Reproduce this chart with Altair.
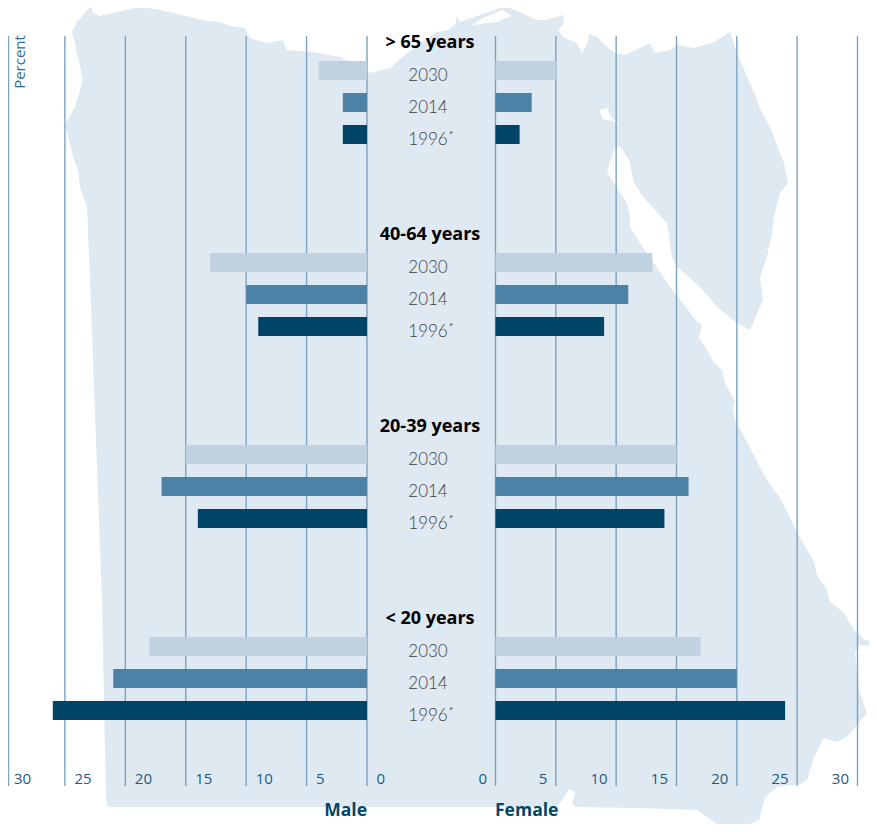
import altair as alt
import pandas as pd

# --- values ---
groups = ["> 65 years", "40-64 years", "20-39 years", "< 20 years"]
years = ["2030", "2014", "1996"]
male = [[4, 2, 2], [13, 10, 9], [15, 17, 14], [18, 21, 26]]
female = [[5, 3, 2], [13, 11, 9], [15, 16, 14], [17, 20, 24]]
ticks = [0, 5, 10, 15, 20, 25, 30]
year_colors = ["#c0d1e1", "#4b82a5", "#004468"]

# Egypt outline, in the map's own units
outline = [
 [91,5],[93,13],[100,16],[117,12],[140,7],[160,10],[207,21],[220,22],[230,26],[245,28],[250,38],[267,43],
 [283,40],[287,50],[313,52],[340,57],[370,73],[390,68],[407,53],[425,40],[437,32],[448,30],[455,25],[457,16],
 [460,22],[463,21],[500,8],[508,7],[520,12],[537,20],[545,20],[563,15],[564,23],[558,30],[563,37],[570,40],
 [577,43],[582,53],[587,45],[589,34],[597,37],[607,47],[615,53],[625,55],[650,43],[655,53],[670,50],[677,45],
 [694,48],[714,42],[730,32],[737,53],[757,100],[759,107],[770,127],[784,163],[788,183],[780,193],[774,217],
 [772,233],[767,257],[760,277],[763,300],[750,330],[737,323],[717,307],[700,287],[677,267],[672,257],[667,223],
 [644,198],[634,183],[629,160],[624,152],[619,145],[614,150],[607,172],[617,188],[627,203],[630,217],[630,227],
 [640,243],[650,257],[670,287],[683,303],[697,322],[702,325],[700,333],[699,338],[709,353],[714,363],[722,370],
 [725,383],[735,402],[733,408],[735,420],[745,438],[765,477],[780,498],[797,532],[814,562],[817,575],[827,590],
 [830,602],[844,613],[854,630],[865,640],[872,640],[877,647],[859,645],[855,653],[859,690],[867,713],[847,737],
 [837,742],[824,738],[814,757],[807,780],[800,784],[777,787],[765,797],[759,820],[737,829],[724,829],[697,810],
 [637,808],[575,807],[572,803],[575,792],[569,789],[562,800],[557,807],[330,807],[108,807],[106,800],[102,600],
 [90,280],[87,207],[80,187],[78,170],[74,160],[65,125],[75,107],[83,80],[78,57],[72,32],[77,22],[85,13],[91,5],
]
lake_north = [[471,26],[480,24],[497,22],[503,19],[512,16],[502,10],[483,18],[471,26]]
lake_bitter = [[599,110],[603,119],[612,121],[620,125],[612,118],[607,108],[599,110]]

# --- tables ---
rows_m, rows_f, rows_y, rows_t = [], [], [], []
for g, name in enumerate(groups):
    base = g * 6
    rows_t.append({"r": base, "label": name})
    for i, y in enumerate(years):
        r = base + 1 + i
        rows_m.append({"r": r, "v": male[g][i], "zero": 0, "year": y})
        rows_f.append({"r": r, "v": female[g][i], "zero": 0, "year": y})
        rows_y.append({"r": r, "label": y})
dm, df = pd.DataFrame(rows_m), pd.DataFrame(rows_f)
dy, dt = pd.DataFrame(rows_y), pd.DataFrame(rows_t)
dticks = pd.DataFrame({"t": ticks, "top": -0.1875, "bottom": 23.25, "lab": 23.03})

W, H = 861, 816
yscale = alt.Scale(domain=[-34 / 32, (H - 34) / 32], range=[0, H], nice=False, zero=False, padding=0)
xm = alt.Scale(domain=[30, 0], range=[-3.5, 359], nice=False, zero=False)
xf = alt.Scale(domain=[0, 30], range=[487.5, 849.5], nice=False, zero=False)
color = alt.Color("year:N", scale=alt.Scale(domain=years, range=year_colors), legend=None)
Y = alt.Y("r:Q", scale=yscale, axis=None)

feature = {"type": "Feature", "properties": {},
           "geometry": {"type": "Polygon", "coordinates": [outline, lake_north, lake_bitter]}}
map_layer = alt.Chart(alt.Data(values=[feature], format=alt.DataFormat(type="json"))).mark_geoshape(
    fill="#dfe9f2", stroke=None
).project(type="identity", scale=1, translate=[-8, -8], reflectY=False)

GRID = "#7ba3c0"
def grid(scale, data=dticks, offset=0):
    return alt.Chart(data).mark_rule(color=GRID, strokeWidth=1.4, xOffset=offset).encode(
        x=alt.X("t:Q", scale=scale, axis=None),
        y=alt.Y("top:Q", scale=yscale, axis=None), y2="bottom:Q")

def bars(data, scale):
    return alt.Chart(data).mark_bar(size=19, orient="horizontal", yOffset=-3.5).encode(
        x=alt.X("v:Q", scale=scale, axis=None), x2="zero:Q", y=Y, color=color)

def tick_text(scale, align, dx):
    return alt.Chart(dticks).mark_text(align=align, dx=dx, font="Open Sans", fontSize=15,
                                       color="#1c5a7e", baseline="middle").encode(
        x=alt.X("t:Q", scale=scale, axis=None),
        y=alt.Y("lab:Q", scale=yscale, axis=None), text="t:Q")

titles = alt.Chart(dt).mark_text(font="Open Sans", fontWeight="bold", fontSize=18, color="#000000",
                                 align="center", baseline="middle", dy=1).encode(x=alt.value(422), y=Y, text="label:N")
year_text = alt.Chart(dy).mark_text(font="Lato", fontWeight=300, fontSize=17, color="#444444",
                                    align="center", baseline="middle", dy=2).encode(x=alt.value(420), y=Y, text="label:N")
stars = alt.Chart(dy[dy.label == "1996"].assign(s="*")).mark_text(
    font="Lato", fontSize=10, color="#444444", align="left", baseline="middle", dy=-3
).encode(x=alt.value(441), y=Y, text="s:N")

male_lab = alt.Chart(pd.DataFrame({"s": ["Male"], "r": [24]})).mark_text(
    font="Open Sans", fontWeight="bold", fontSize=17.5, color="#00466b", align="right", baseline="middle", dy=1
).encode(x=alt.value(359), y=Y, text="s:N")
female_lab = alt.Chart(pd.DataFrame({"s": ["Female"], "r": [24]})).mark_text(
    font="Open Sans", fontWeight="bold", fontSize=17.5, color="#00466b", align="left", baseline="middle", dy=1
).encode(x=alt.value(487), y=Y, text="s:N")
percent = alt.Chart(pd.DataFrame({"s": ["Percent"], "r": [0.625]})).mark_text(
    font="Open Sans", fontSize=15, color="#2a6f96", angle=270, align="center", baseline="middle"
).encode(x=alt.value(11.5), y=Y, text="s:N")

chart = alt.layer(
    map_layer, grid(xm), grid(xm, dticks[dticks.t == 30], 4), grid(xf), bars(dm, xm), bars(df, xf),
    tick_text(xm, "left", 9.5), tick_text(xf, "right", -8.5),
    titles, year_text, stars, male_lab, female_lab, percent,
).resolve_scale(x="independent").properties(
    width=W, height=H, padding=0, autosize=alt.AutoSizeParams(type="none")
).configure_view(stroke=None)

chart.save("out.html", embed_options={"renderer": "svg", "actions": False})
